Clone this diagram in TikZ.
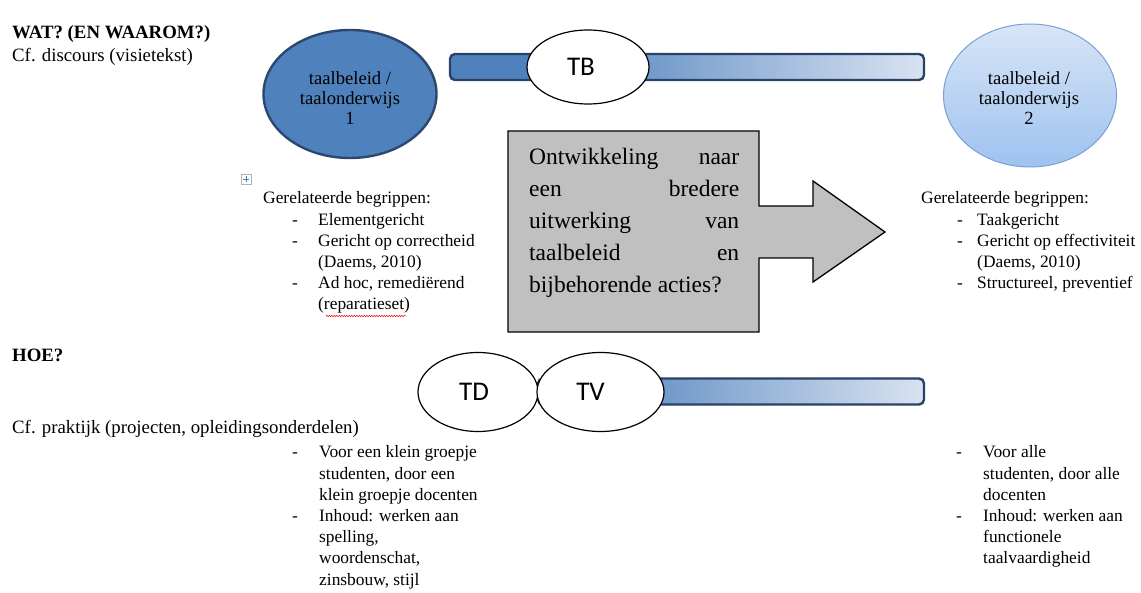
\documentclass[tikz,border=0pt]{standalone}
\usepackage{fontspec}
\setmainfont{Liberation Serif}
\newfontfamily\calfont{Carlito}
\usetikzlibrary{shapes.geometric,decorations.pathmorphing}

\definecolor{bA}{RGB}{79,129,189}
\definecolor{bB}{RGB}{217,227,241}
\definecolor{barline}{RGB}{42,66,104}
\definecolor{discline}{RGB}{44,72,110}
\definecolor{cTop}{RGB}{216,229,246}
\definecolor{cBot}{RGB}{158,194,240}
\definecolor{cLine}{RGB}{122,160,214}
\definecolor{boxgray}{RGB}{192,192,192}
\definecolor{handleblue}{RGB}{70,120,200}

% horizontal fades for the two bars (middle 25bp..75bp spans the bar)
\pgfdeclarehorizontalshading{topbar}{100bp}{color(0bp)=(bA); color(36bp)=(bA); color(75bp)=(bB); color(100bp)=(bB)}
\pgfdeclarehorizontalshading{lowbar}{100bp}{color(0bp)=(bA); color(30bp)=(bA); color(75bp)=(bB); color(100bp)=(bB)}

\begin{document}
\begin{tikzpicture}[x=1pt,y=-1pt,
  bar/.style={rectangle, rounded corners=5pt, draw=barline, line width=2.4pt, inner sep=0pt, shade},
  tag/.style={ellipse, draw=black, line width=1.2pt, fill=white, inner sep=0pt,
    font=\calfont\fontsize{27}{27}\selectfont},
  disc/.style={ellipse, inner sep=0pt},
  disctext/.style={inner sep=0pt, font=\fontsize{18.6}{20}\selectfont},
  head/.style={anchor=base west, inner sep=0pt, font=\fontsize{18.8}{22}\selectfont},
  listtext/.style={anchor=base west, inner sep=0pt, font=\fontsize{17.4}{21.2}\selectfont},
  arrowbox/.style={fill=boxgray, draw=black, line width=1.3pt, line join=miter}]

\useasboundingbox[fill=white] (0,0) rectangle (1141,593);

% ---- headings on the left
\node[head, font=\bfseries\fontsize{18.8}{22}\selectfont] (wat) at (12,39) {WAT? (EN WAAROM?)};
\node[head] (disc) at (12,62) {Cf. discours (visietekst)};
\node[head, font=\bfseries\fontsize{18.8}{22}\selectfont] (hoe) at (12,362) {HOE?};
\node[head] (prak) at (12,434) {Cf. praktijk (projecten, opleidingsonderdelen)};

% ---- upper bar with TB
\node[bar, shading=topbar, minimum width=474pt, minimum height=26pt] (barTop) at (687,67) {};
\node[tag, minimum width=122pt, minimum height=74pt] (tb) at (588,67) {\kern-14pt TB};

% ---- the two stages
\node[disc, fill=bA, draw=discline, line width=2.4pt, minimum width=173pt, minimum height=128pt] (c1) at (350,94) {};
\node[disctext] (c1t) at ([yshift=-7pt]c1.center)
  {\begin{tabular}{@{}c@{}}taalbeleid /\\ taalonderwijs\\ 1\end{tabular}};

\node[disc, top color=cTop, bottom color=cBot, draw=cLine, line width=1pt,
  minimum width=173pt, minimum height=143pt] (c2) at (1030,95.5) {};
\node[disctext] (c2t) at ([xshift=-1pt,yshift=-5.5pt]c2.center)
  {\begin{tabular}{@{}c@{}}taalbeleid /\\ taalonderwijs\\ 2\end{tabular}};

% ---- box with arrow
\draw[arrowbox] (508,131) -- (759,131) -- (759,206) -- (813,206) -- (813,181)
  -- (885,232) -- (813,282) -- (813,258) -- (759,258) -- (759,332) -- (508,332) -- cycle;
\node[anchor=base west, inner sep=0pt] (vraag) at (529,165)
  {\parbox[t]{210pt}{\fontsize{23.5}{32}\selectfont
   Ontwikkeling\hfill naar\\ een\hfill bredere\\ uitwerking\hfill van\\ taalbeleid\hfill en\\ bijbehorende acties?}};

% ---- table move handle
\draw[gray!60, fill=white, line width=0.5pt] (241,174) rectangle (251,184);
\draw[handleblue, line width=0.9pt] (243,179) -- (249,179) (246,176) -- (246,182);

% ---- related concepts, left
\node[listtext] (relL) at (263,204)
  {\begin{tabular}[t]{@{}l@{}}
   Gerelateerde begrippen:\\
   \hspace*{29pt}\makebox[26pt][l]{-}Elementgericht\\
   \hspace*{29pt}\makebox[26pt][l]{-}Gericht op correctheid\\
   \hspace*{55pt}(Daems, 2010)\\
   \hspace*{29pt}\makebox[26pt][l]{-}Ad hoc, remedi\"erend\\
   \hspace*{55pt}(reparatieset)
   \end{tabular}};
\draw[red, line width=0.5pt, decorate, decoration={snake, amplitude=0.7pt, segment length=2.5pt}]
  (326,316) -- (406,316);

% ---- related concepts, right
\node[listtext] (relR) at (921,204)
  {\begin{tabular}[t]{@{}l@{}}
   Gerelateerde begrippen:\\
   \hspace*{36pt}\makebox[20pt][l]{-}Taakgericht\\
   \hspace*{36pt}\makebox[20pt][l]{-}Gericht op effectiviteit\\
   \hspace*{56pt}(Daems, 2010)\\
   \hspace*{36pt}\makebox[20pt][l]{-}Structureel, preventief
   \end{tabular}};

% ---- lower bar with TD and TV
\node[bar, shading=lowbar, minimum width=386pt, minimum height=26pt] (barLow) at (731,391.5) {};
\node[tag, minimum width=120pt, minimum height=79pt] (td) at (478,392) {\kern-8pt TD};
\node[tag, minimum width=127pt, minimum height=79pt] (tv) at (600.5,392) {\kern-20pt TV};

% ---- practice, left
\node[listtext] (prL) at (292,458)
  {\begin{tabular}[t]{@{}l@{}}
   \makebox[27pt][l]{-}Voor een klein groepje\\
   \hspace*{27pt}studenten, door een\\
   \hspace*{27pt}klein groepje docenten\\
   \makebox[27pt][l]{-}Inhoud: werken aan\\
   \hspace*{27pt}spelling,\\
   \hspace*{27pt}woordenschat,\\
   \hspace*{27pt}zinsbouw, stijl
   \end{tabular}};

% ---- practice, right
\node[listtext] (prR) at (956,458)
  {\begin{tabular}[t]{@{}l@{}}
   \makebox[27pt][l]{-}Voor alle\\
   \hspace*{27pt}studenten, door alle\\
   \hspace*{27pt}docenten\\
   \makebox[27pt][l]{-}Inhoud: werken aan\\
   \hspace*{27pt}functionele\\
   \hspace*{27pt}taalvaardigheid
   \end{tabular}};

\end{tikzpicture}
\end{document}
